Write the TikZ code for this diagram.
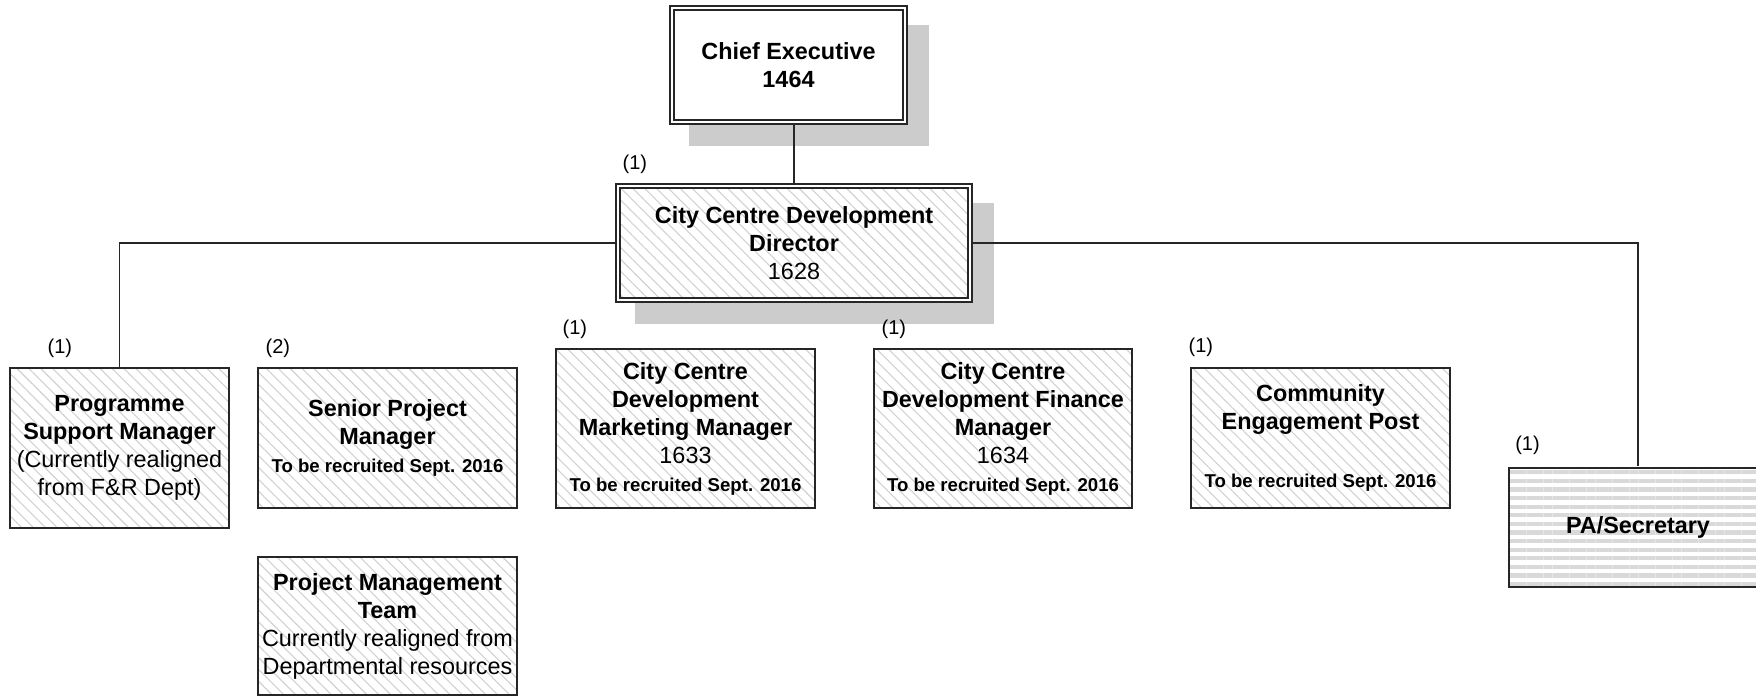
\documentclass[tikz,border=0pt]{standalone}
\usepackage{fontspec}
\setmainfont{Liberation Sans}
\usetikzlibrary{patterns.meta,backgrounds}
\newcommand\recruit{{\fontsize{9.3}{14}\selectfont\bfseries To be recruited Sept. 2016}}
\tikzset{
  card/.style={draw=black!85,line width=0.75pt,fill=white,
    align=center,inner sep=2pt,font=\fontsize{11.7}{14}\selectfont},
  job/.style={card,preaction={fill=white},
    pattern={Lines[angle=-45,distance=4.2pt,line width=0.55pt]},pattern color=black!18},
  framed/.style={line width=0.7pt,double=white,double distance=1.4pt},
  pajob/.style={card,preaction={fill=white},
    pattern={Lines[angle=0,distance=4.3pt,line width=2.1pt]},pattern color=black!15},
  count/.style={anchor=south west,inner sep=0pt,font=\fontsize{10}{12}\selectfont},
  shadowfill/.style={fill=black!20},
  wire/.style={draw=black!85,line width=0.6pt}
}
\begin{document}
\begin{tikzpicture}[x=0.5pt,y=-0.5pt]
  \clip (0,0) rectangle (1756,696);
  % hai o tren cung
  \node[card,framed,minimum width=116.5pt,minimum height=57pt] (ceo) at (788.5,65)
    {\textbf{Chief Executive}\\\textbf{1464}};
  \node[job,framed,minimum width=176pt,minimum height=57pt] (dir) at (794,243)
    {\textbf{City Centre Development}\\\textbf{Director}\\1628};
  % cac o hang duoi
  \node[job,minimum width=109.5pt,minimum height=80pt] (psm) at (119.5,448)
    {\textbf{Programme}\\\textbf{Support Manager}\\(Currently realigned\\from F\&R Dept)};
  \node[job,minimum width=129.5pt,minimum height=70pt] (spm) at (387.5,438)
    {\textbf{Senior Project}\\\textbf{Manager}\\\recruit};
  \node[job,minimum width=129.5pt,minimum height=69pt] (pmt) at (387.5,626)
    {\textbf{Project Management}\\\textbf{Team}\\Currently realigned from\\Departmental resources};
  \node[job,minimum width=129.5pt,minimum height=79.5pt] (cdm) at (685.5,428.5)
    {\textbf{City Centre}\\\textbf{Development}\\\textbf{Marketing Manager}\\1633\\\recruit};
  \node[job,minimum width=129pt,minimum height=79.5pt] (cdf) at (1003,428.5)
    {\textbf{City Centre}\\\textbf{Development Finance}\\\textbf{Manager}\\1634\\\recruit};
  \node[job,minimum width=129.5pt,minimum height=70pt] (cep) at (1320.5,438)
    {\textbf{Community}\\\textbf{Engagement Post}\\[15pt]\recruit};
  \node[pajob,minimum width=129pt,minimum height=59.5pt] (pa) at (1638,527.5)
    {\textbf{PA/Secretary}};
  % so luong
  \foreach \n/\dx/\dy/\t in {dir/5/11/1,psm/38/9/1,spm/8/9/2,cdm/7/9/1,cdf/8/9/1,cep/-2/10/1,pa/8/11/1}
    \node[count] (c-\n) at ([shift={(\dx,-\dy)}]\n.north west) {(\t)};
  % bong
  \begin{scope}[on background layer]
    \foreach \n in {ceo,dir}
      \fill[shadowfill] ([shift={(18,18)}]\n.north west) rectangle ([shift={(23,23)}]\n.south east);
  \end{scope}
  \draw[wire] (dir.north) -- (dir.north |- ceo.south);
  \draw[wire] (dir.west) -| (psm.north);
  \draw[wire] (dir.east) -| (pa.north);
\end{tikzpicture}
\end{document}
